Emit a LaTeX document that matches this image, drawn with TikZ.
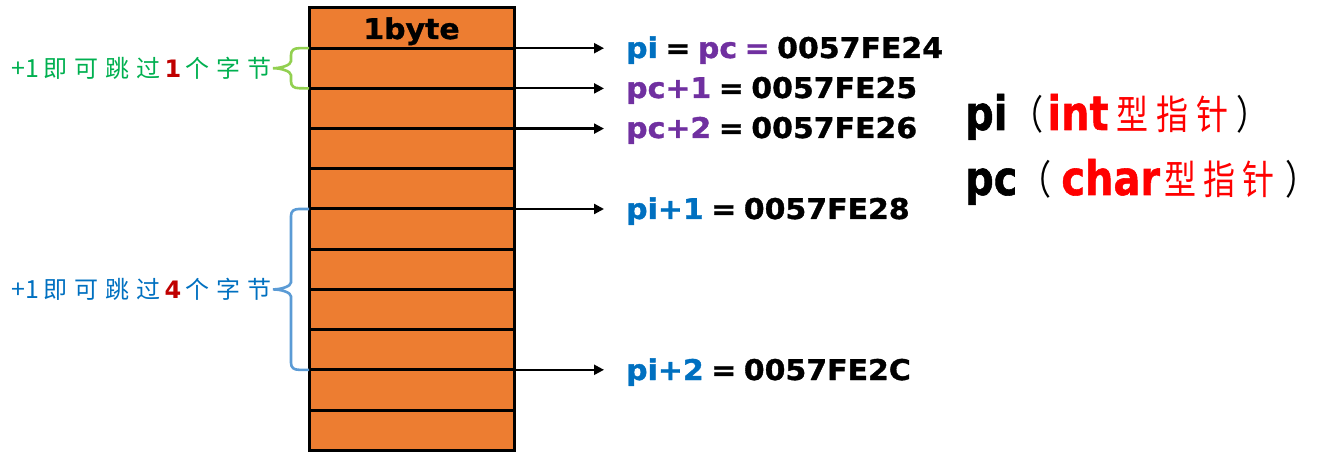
\documentclass[tikz,border=0pt]{standalone}
\usepackage{fontspec}
\usepackage{graphicx}
\setmainfont{DejaVu Sans}
\newfontfamily\labfont{DejaVu Sans}[FakeStretch=1.05, BoldFeatures={FakeBold=1.2}]
\newfontfamily\cjkfont{Noto Sans CJK SC}
\usetikzlibrary{arrows.meta}
\definecolor{cellor}{HTML}{ED7D31}
\definecolor{piblue}{HTML}{0070C0}
\definecolor{pcpurple}{HTML}{7030A0}
\definecolor{grn}{HTML}{00B050}
\definecolor{grnbrace}{HTML}{92D050}
\definecolor{bluebrace}{HTML}{5B9BD5}
\definecolor{darkred}{HTML}{C00000}
\definecolor{brightred}{HTML}{FF0000}
\newcommand{\cgap}{\hspace{7pt}}
\newcommand{\dgap}{\hspace{4.5pt}}
\newcommand{\gs}{\hspace{7.5pt}}
\newcommand{\bigcj}[1]{{\cjkfont\mdseries\fontsize{32}{34}\selectfont #1}}
\newcommand{\redbold}[1]{{\color{darkred}\rmfamily\bfseries\fontsize{24}{25}\selectfont #1}}
\newcommand{\plusone}{{\fontsize{25}{26}\selectfont +1}}
\begin{document}
\begin{tikzpicture}[x=1pt,y=-1pt,
  cell/.style={draw=black, line width=3pt, fill=cellor, minimum width=205pt,
    minimum height=40.2pt, inner sep=0pt, outer sep=0pt, anchor=north west},
  lab/.style={font=\labfont\bfseries\fontsize{28.5}{30}\selectfont, anchor=base west, inner sep=0pt},
  arr/.style={line width=2.2pt, -{Triangle[length=10pt,width=10pt]}, shorten >=22pt},
  gbr/.style={draw=grnbrace, line width=2.6pt},
  bbr/.style={draw=bluebrace, line width=2.6pt},
  note/.style={font=\cjkfont\fontsize{24}{26}\selectfont, anchor=base east, inner sep=0pt},
  big/.style={anchor=base west, inner sep=0pt, font=\labfont\bfseries\fontsize{38}{40}\selectfont}
]
\useasboundingbox (0,0) rectangle (1318,465);
% memory cells
\node[cell] (r0) at (309,8) {};
\foreach \i in {1,...,10} \node[cell] (r\i) at (309,{8+40.2*\i}) {};
\node[lab, anchor=base] (hdr) at (411.5,39) {1byte};
% braces
\draw[gbr] (r1.north west) -- ++(-10,0) .. controls +(-5,0) and +(0,-5) .. ++(-8,7)
  -- ++(0,6) .. controls +(0,4) and +(8,0) .. ++(-18,7) coordinate (gtip)
  .. controls +(8,0) and +(0,-4) .. ++(18,7) -- ++(0,6)
  .. controls +(0,5) and +(-5,0) .. ++(8,7) -- (r1.south west);
\draw[bbr] (r5.north west) -- ++(-10,0) .. controls +(-5,0) and +(0,-5) .. ++(-8,7)
  -- ++(0,66.4) .. controls +(0,4) and +(8,0) .. ++(-18,7) coordinate (btip)
  .. controls +(8,0) and +(0,-4) .. ++(18,7) -- ++(0,66.4)
  .. controls +(0,5) and +(-5,0) .. ++(8,7) -- (r8.south west);
\node[note, text=grn] (n1) at ([xshift=-1pt,yshift=-9.5pt]gtip)
  {\plusone\hspace{4pt}即\cgap 可\cgap 跳\cgap 过\dgap\redbold{1}\dgap 个\cgap 字\cgap 节};
\node[note, text=piblue] (n2) at ([xshift=-1pt,yshift=-9.5pt]btip)
  {\plusone\hspace{4pt}即\cgap 可\cgap 跳\cgap 过\dgap\redbold{4}\dgap 个\cgap 字\cgap 节};
% labels
\node[lab] (l1) at (626,58) {\textcolor{piblue}{pi}\gs=\gs\textcolor{pcpurple}{pc\gs=}\gs0057FE24};
\node[lab] (l2) at (626,98) {\textcolor{pcpurple}{pc+1}\gs=\gs0057FE25};
\node[lab] (l3) at (626,138) {\textcolor{pcpurple}{pc+2}\gs=\gs0057FE26};
\node[lab] (l5) at (626,219) {\textcolor{piblue}{pi+1}\gs=\gs0057FE28};
\node[lab] (l9) at (626,380) {\textcolor{piblue}{pi+2}\gs=\gs0057FE2C};
% arrows
\draw[arr] (r1.north east) -- (r1.north east -| l1.west);
\draw[arr] (r2.north east) -- (r2.north east -| l2.west);
\draw[arr] (r3.north east) -- (r3.north east -| l3.west);
\draw[arr] (r5.north east) -- (r5.north east -| l5.west);
\draw[arr] (r9.north east) -- (r9.north east -| l9.west);
% legend
\node[big] (t1) at (965,130) {\scalebox{1}[1.25]{pi\hspace{4pt}\bigcj{（}\hspace{4pt}\textcolor{brightred}{int}\hspace{8pt}{\color{brightred}\bigcj{型\hspace{8pt}指\hspace{8pt}针}}\hspace{8pt}\bigcj{）}}};
\node[big] (t2) at (965,195) {\scalebox{1}[1.25]{pc\hspace{2pt}\bigcj{（}\hspace{10pt}\textcolor{brightred}{char}\hspace{4pt}{\color{brightred}\bigcj{型\hspace{7pt}指\hspace{7pt}针}}\hspace{11pt}\bigcj{）}}};
\end{tikzpicture}
\end{document}
